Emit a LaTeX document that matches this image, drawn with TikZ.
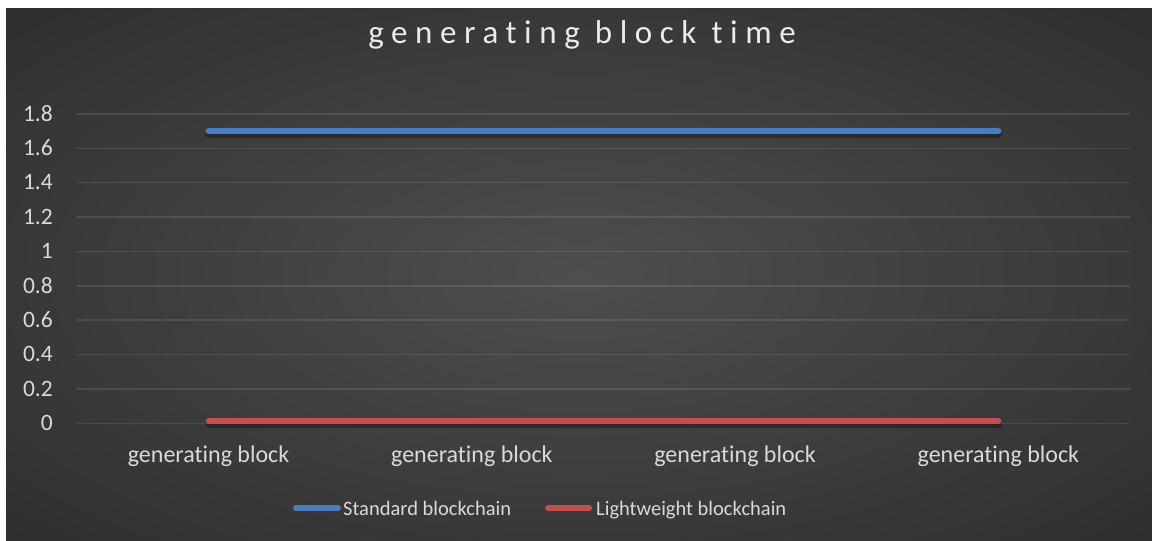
\documentclass[tikz,border=0pt]{standalone}
\usepackage{fontspec}
\setmainfont{Carlito}[Ligatures={NoCommon,NoRequired}]
\newfontfamily\titlefont{Carlito}[LetterSpace=23,Ligatures={NoCommon,NoRequired}]
\definecolor{bgin}{HTML}{4E4E4E}
\definecolor{bgout}{HTML}{262626}
\definecolor{stdblue}{HTML}{4A7EBB}
\definecolor{lwred}{HTML}{C0504D}
\definecolor{txtgray}{HTML}{D9D9D9}
\pgfdeclareradialshading{chartbg}{\pgfpoint{0bp}{0bp}}{color(0bp)=(bgin); color(45bp)=(bgout); color(80bp)=(bgout)}

\begin{document}
\begin{tikzpicture}[x=1pt,y=-1pt]
\tikzstyle{grid}=[white,opacity=0.1,line width=1.5pt];
\tikzstyle{tick}=[anchor=base east,text=txtgray,font=\fontsize{23.5}{27}\selectfont,inner sep=0pt];
\tikzstyle{cat}=[anchor=base,text=txtgray,font=\fontsize{24}{28}\selectfont,inner sep=0pt];
\tikzstyle{keytext}=[anchor=base west,text=txtgray,font=\fontsize{20.5}{24}\selectfont,inner sep=0pt];
\tikzstyle{series}=[line width=6pt,line cap=round];
\tikzstyle{lineshadow}=[black,opacity=0.3,line width=7pt,line cap=round];

\useasboundingbox (0,0) rectangle (1152,541);
\fill[white] (0,0) rectangle (1152,541);
\shade[shading=chartbg] (6,8) rectangle (1152,541);

\node [anchor=base,text=white!92!black,font=\titlefont\fontsize{33}{38}\selectfont,inner sep=0pt] (title) at (582,43) {generating block time};

\foreach \i/\lab in {0/0,1/0.2,2/0.4,3/0.6,4/0.8,5/1,6/1.2,7/1.4,8/1.6,9/1.8}{
  \draw[grid] (77,{423.3-\i*34.37}) -- (1130,{423.3-\i*34.37});
  \node [tick] (y\i) at (53,{430.5-\i*34.37}) {\lab};
}

\foreach \i/\x in {1/208.6,2/471.9,3/735.1,4/998.4}{
  \coordinate (std\i) at (\x,131.2);
  \coordinate (lw\i) at (\x,421.3);
  \node [cat] (cat\i) at (\x,462) {generating block};
}

\draw[lineshadow] ([yshift=-3pt]std1) -- ([yshift=-3pt]std2) -- ([yshift=-3pt]std3) -- ([yshift=-3pt]std4);
\draw[lineshadow] ([yshift=-3pt]lw1) -- ([yshift=-3pt]lw2) -- ([yshift=-3pt]lw3) -- ([yshift=-3pt]lw4);
\draw[series,stdblue] (std1) -- (std2) -- (std3) -- (std4);
\draw[series,lwred] (lw1) -- (lw2) -- (lw3) -- (lw4);

\coordinate (k1a) at (296,508);
\coordinate (k1b) at (338,508);
\coordinate (k2a) at (548,508);
\coordinate (k2b) at (589,508);
\node [keytext] (key1) at (343,515) {Standard blockchain};
\node [keytext] (key2) at (596,515) {Lightweight blockchain};
\draw[series,stdblue] (k1a) -- (k1b);
\draw[series,lwred] (k2a) -- (k2b);
\end{tikzpicture}
\end{document}
